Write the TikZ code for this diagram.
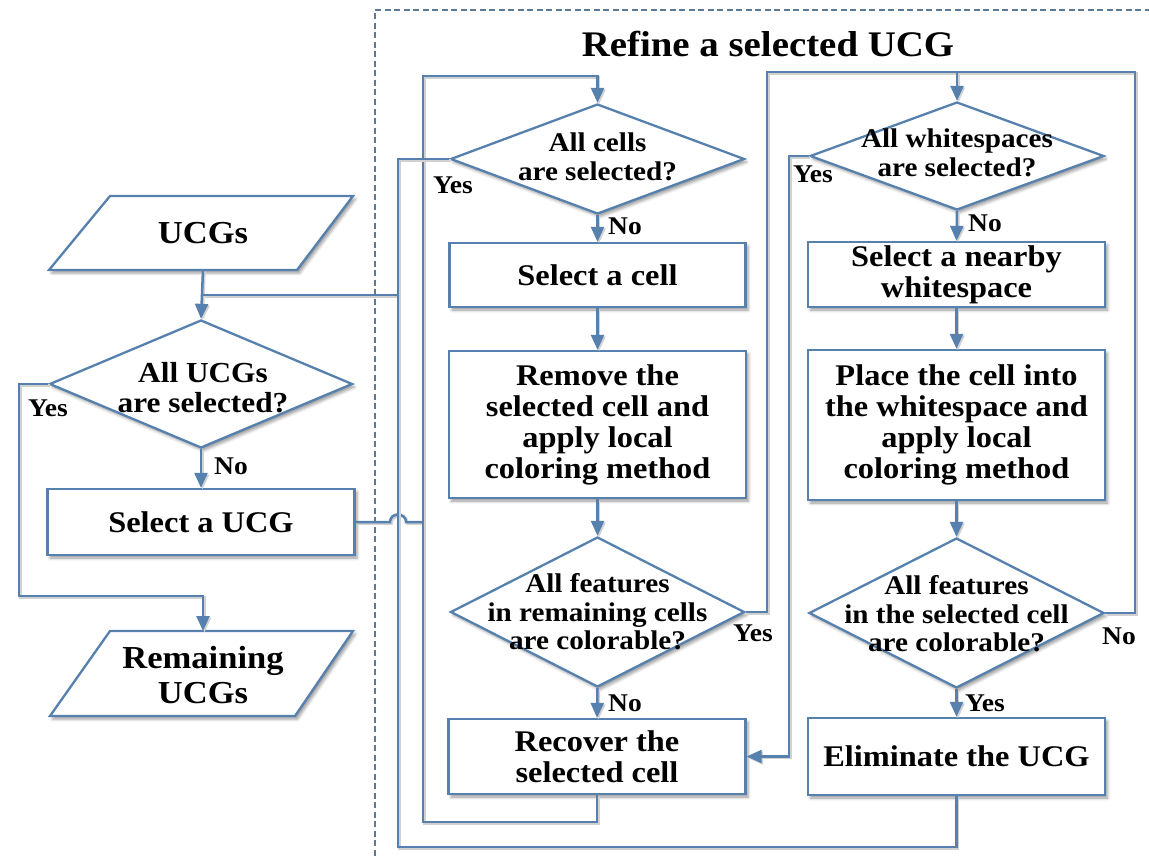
\documentclass[tikz,border=0pt]{standalone}
\usepackage{fontspec}
\setmainfont{Liberation Serif}[FakeStretch=1.08]
\usetikzlibrary{shapes.geometric,arrows.meta,shadows.blur}

\definecolor{flow}{RGB}{86,128,174}
\definecolor{framecol}{RGB}{92,122,152}

\tikzset{
  boxline/.style={draw=flow, line width=2.3pt},
  soft/.style={blur shadow={shadow xshift=2.5pt, shadow yshift=-3pt, shadow blur radius=3pt, shadow opacity=40}},
  procbox/.style={boxline, soft, fill=white, rectangle, inner sep=0pt, align=center,
    font=\fontsize{30}{31}\selectfont\bfseries},
  decbox/.style={boxline, soft, fill=white, diamond, inner sep=0pt},
  dectext/.style={align=center, inner sep=0pt, font=\fontsize{27}{28.5}\selectfont\bfseries},
  iotext/.style={align=center, inner sep=0pt, font=\fontsize{32}{35}\selectfont\bfseries},
  lab/.style={inner sep=0pt, font=\fontsize{25.5}{26}\selectfont\bfseries},
  flowline/.style={draw=flow, line width=2.5pt,
    preaction={draw=black!18, line width=2.5pt, transform canvas={xshift=1.5pt, yshift=-1.5pt}}},
  arr/.style={flowline, -{Triangle[width=13pt,length=15pt]}},
  framebox/.style={draw=framecol, line width=1.6pt, dash pattern=on 6pt off 3.5pt},
}

\begin{document}
\begin{tikzpicture}[x=1pt, y=-1pt]
\useasboundingbox (0,0) rectangle (1149,859);

% dashed frame of the refinement stage
\draw[framebox] (1160,10) -- (375,10) -- (375,870);
\node[font=\fontsize{36}{38}\selectfont\bfseries, inner sep=0pt] (title) at (768,44) {Refine a selected UCG};

% ---- outer loop over UCGs ----
\path[boxline, soft, fill=white] (110,196) -- (353,196) -- (297,270) -- (49,270) -- cycle;
\node[iotext] (ucgs) at (203,233) {UCGs};
\coordinate (ucgsS) at (203,270);

\node[decbox, minimum width=303pt, minimum height=128pt] (allucg) at (201,384) {};
\node[dectext, font=\fontsize{29}{30}\selectfont\bfseries] at (203,388) {All UCGs\\are selected?};

\node[procbox, minimum width=307pt, minimum height=66pt] (selucg) at (201,522) {Select a UCG};

\path[boxline, soft, fill=white] (110,631) -- (353,631) -- (295,716) -- (50,716) -- cycle;
\node[iotext] (remain) at (203,675) {Remaining\\UCGs};
\coordinate (remN) at (203,631);

% ---- cell removal column ----
\node[decbox, minimum width=294pt, minimum height=110pt] (allcell) at (597.5,159) {};
\node[dectext] at (597.5,157) {All cells\\are selected?};

\node[procbox, minimum width=296pt, minimum height=64pt] (cell) at (597.5,275) {Select a cell};
\node[procbox, minimum width=297pt, minimum height=147pt] (remove) at (597.5,424.5)
  {Remove the\\selected cell and\\apply local\\coloring method};
\node[decbox, minimum width=294pt, minimum height=150pt] (feat1) at (597.5,612) {};
\node[dectext] at (597.5,612) {All features\\in remaining cells\\are colorable?};
\node[procbox, minimum width=297pt, minimum height=75pt] (recover) at (597,756.5)
  {Recover the\\selected cell};

% ---- whitespace column ----
\node[decbox, minimum width=294pt, minimum height=108pt] (allws) at (957,156) {};
\node[dectext] at (957,153) {All whitespaces\\are selected?};

\node[procbox, minimum width=297pt, minimum height=65pt] (near) at (956.5,274.5)
  {Select a nearby\\whitespace};
\node[procbox, minimum width=297pt, minimum height=150pt] (place) at (956.5,425)
  {Place the cell into\\the whitespace and\\apply local\\coloring method};
\node[decbox, minimum width=295pt, minimum height=150pt] (feat2) at (956.5,613) {};
\node[dectext] at (956.5,614) {All features\\in the selected cell\\are colorable?};
\node[procbox, minimum width=297pt, minimum height=77pt] (elim) at (956.5,756.5)
  {Eliminate the UCG};

% ---- routing points ----
\coordinate (jin)    at (203,295);
\coordinate (busA)   at (398,295);
\coordinate (outerB) at (398,847);
\coordinate (selJ)   at (423,522);
\coordinate (innerT) at (423,76);
\coordinate (innerB) at (423,822);
\coordinate (rtL)    at (767,72);
\coordinate (rtR)    at (1135,72);
\coordinate (wsIn)   at (957,72);
\coordinate (wsYes)  at (789,756.5);
\coordinate (ucgYes) at (19,596);

% ---- connectors ----
\draw[arr] (ucgsS) -- (allucg.north);
\draw[flowline] (jin) -- (busA);
\draw[arr] (allucg.south) -- (selucg.north);
\draw[arr] (allucg.west) -| (ucgYes) -| (remN);

\draw[flowline] (selucg.east) -- (390,522) .. controls (390,512) and (406,512) .. (406,522) -- (selJ);
\draw[arr] (selJ) -- (innerT) -| (allcell.north);
\draw[flowline] (recover.south) |- (innerB) -- (selJ);

\draw[flowline] (allcell.west) -| (busA);
\draw[flowline] (elim.south) |- (outerB) -- (busA);

\draw[arr] (allcell.south) -- (cell.north);
\draw[arr] (cell.south) -- (remove.north);
\draw[arr] (remove.south) -- (feat1.north);
\draw[arr] (feat1.south) -- (recover.north);

\draw[flowline] (feat1.east) -| (rtL) -- (rtR) |- (feat2.east);
\draw[arr] (wsIn) -- (allws.north);
\draw[arr] (allws.west) -| (wsYes) -- (recover.east);

\draw[arr] (allws.south) -- (near.north);
\draw[arr] (near.south) -- (place.north);
\draw[arr] (place.south) -- (feat2.north);
\draw[arr] (feat2.south) -- (elim.north);

% ---- branch labels ----
\node[lab] (y1) at (48,408) {Yes};
\node[lab] (n1) at (231,466) {No};
\node[lab] (y2) at (453,185) {Yes};
\node[lab] (n2) at (625,226) {No};
\node[lab] (y3) at (753,633) {Yes};
\node[lab] (n3) at (625,703) {No};
\node[lab] (y4) at (813,174) {Yes};
\node[lab] (n4) at (985,223) {No};
\node[lab] (n5) at (1119,636) {No};
\node[lab] (y5) at (985,703) {Yes};
\end{tikzpicture}
\end{document}
